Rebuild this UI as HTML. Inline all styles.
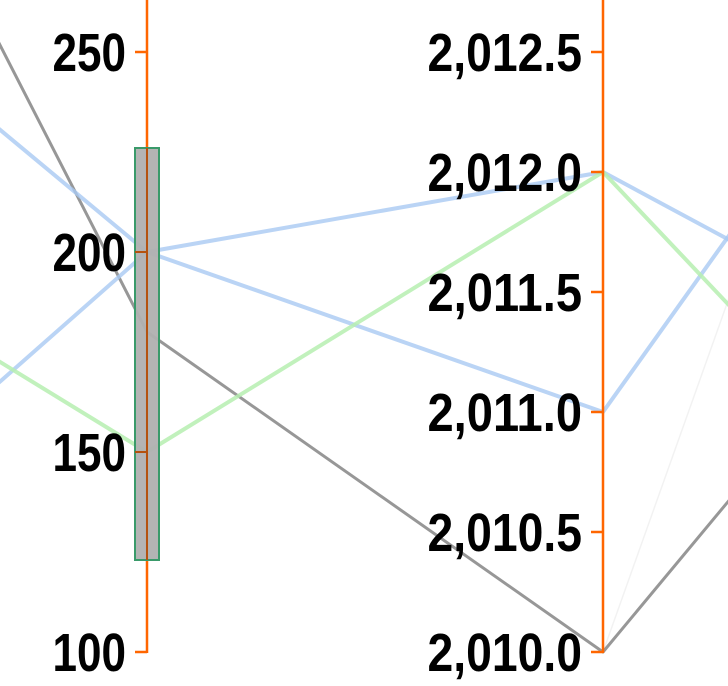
<!DOCTYPE html>
<html><head><meta charset="utf-8"><style>
html,body{margin:0;padding:0;background:#fff;}
svg{display:block;}
text{font-family:"Liberation Sans",sans-serif;font-weight:bold;font-size:54px;fill:#000;}
</style></head><body>
<svg id="chart" width="728" height="686" viewBox="0 0 728 686"></svg>
<script>
const dims = ["left-offscreen","value","year","right-offscreen"];
const axis1Ticks = [100,150,200,250];
const axis1Labels = ["100","150","200","250"];
const axis2Ticks = [2010.0,2010.5,2011.0,2011.5,2012.0,2012.5];
const axis2Labels = ["2,010.0","2,010.5","2,011.0","2,011.5","2,012.0","2,012.5"];
const grayValues = [202,180,2010.0,91.6];
const blueAValues = [130,200,2011.0,146.7];
const blueBValues = [-0.5,200,2012.0,39];
const greenValues = [80,150,2012.0,-0.5];
const faintValues = [2010.0,214];
const brushRange = [123,226];

const NS="http://www.w3.org/2000/svg";
const svg=document.getElementById('chart');
const Y0=652,Y1=52;
const axX=[-310,147,603,1060];
const scales=[
  v=>Y0-(v-0)/100*(Y0-Y1),
  v=>Y0-(v-100)/150*(Y0-Y1),
  v=>Y0-(v-2010)/2.5*(Y0-Y1),
  v=>Y0-(v-0)/100*(Y0-Y1)
];
function mk(tag,attrs){const e=document.createElementNS(NS,tag);for(const k in attrs)e.setAttribute(k,attrs[k]);svg.appendChild(e);return e;}
function path(pts,color,w,op,name){
  const d=pts.map((p,i)=>(i?'L':'M')+p[0]+','+p[1]).join(' ');
  const p=mk('path',{d:d,fill:'none',stroke:color,'stroke-width':w,'stroke-opacity':op,'stroke-linejoin':'round'});
  
  
}
function line(vals,color,w,op,name){
  path(vals.map((v,i)=>[axX[i],scales[i](v)]),color,w,op,name);
}
path([[axX[2],scales[2](faintValues[0])],[axX[3],scales[3](faintValues[1])]],'#000',1.5,0.05,'faint-gray-line');
line(grayValues,'#8c8c8c',3,0.9,'gray-series-line');
line(blueAValues,'#a9c9f2',4,0.8,'blue-series-line-a');
line(blueBValues,'#a9c9f2',4,0.8,'blue-series-line-b');
line(greenValues,'#b6eeb0',4,0.85,'green-series-line');

function labelLen(s){let n=0;for(const c of s)n+=(c===','||c==='.')?16:24.5;return n;}
function axis(i,ticks,labels,name){
  const x=axX[i];
  const l=mk('line',{x1:x,x2:x,y1:0,y2:Y0+1,stroke:'#ff6600','stroke-width':2.5});
  
  
  ticks.forEach((t,j)=>{
    const y=scales[i](t);
    const tk=mk('line',{x1:x-12,x2:x,y1:y,y2:y,stroke:'#ff6600','stroke-width':2.5});
    
    
    const tx=mk('text',{x:x-21,y:y+19,'text-anchor':'end',textLength:labelLen(labels[j]),lengthAdjust:'spacingAndGlyphs'});
    tx.textContent=labels[j];
    
    
  });
}
axis(1,axis1Ticks,axis1Labels,'value-axis');
axis(2,axis2Ticks,axis2Labels,'year-axis');

const by1=scales[1](brushRange[1]),by0=scales[1](brushRange[0]);
const b=mk('rect',{x:axX[1]-12,y:by1,width:24,height:by0-by1,fill:'#b0b0b0','fill-opacity':0.95,stroke:'#3a9a6a','stroke-width':2});


const bl=mk('line',{x1:axX[1],x2:axX[1],y1:by1,y2:by0,stroke:'#b5520f','stroke-width':2});


axis1Ticks.forEach(t=>{const y=scales[1](t);if(y>by1&&y<by0){const k=mk('line',{x1:axX[1]-12,x2:axX[1],y1:y,y2:y,stroke:'#b5520f','stroke-width':2});

}});
</script>
</body></html>
